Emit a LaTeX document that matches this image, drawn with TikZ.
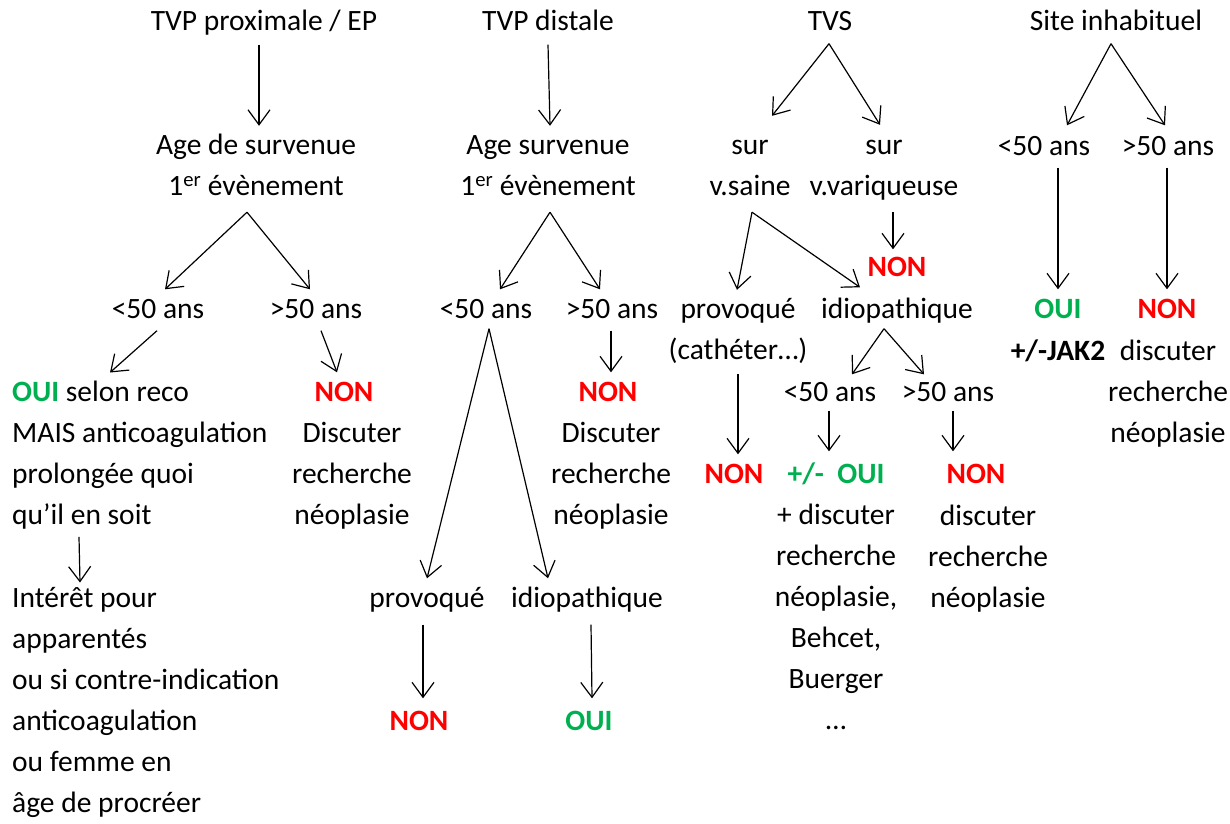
\documentclass[tikz,border=0pt]{standalone}
\usepackage{fontspec}
\setmainfont{Carlito}
\usetikzlibrary{calc,arrows.meta}
\definecolor{ouivert}{RGB}{0,176,80}
\definecolor{nonrouge}{RGB}{255,0,0}
\tikzset{
	txt/.style={font=\fontsize{29.5}{41}\selectfont, inner sep=0pt, align=center,
		execute at begin node=\strut, execute at end node=\strut},
	non/.style={txt, text=nonrouge, font=\fontsize{29.5}{41}\selectfont\bfseries},
	oui/.style={txt, text=ouivert, font=\fontsize{29.5}{41}\selectfont\bfseries},
	fl/.style={-{Straight Barb[length=15pt,width=22pt]}, line width=1.2pt}
}

\begin{document}
\begin{tikzpicture}[x=1pt, y=-1pt]
		%%%%% START %%%%%
		\useasboundingbox (0, 0) rectangle (1230, 823);
		
		% TVP proximale
		\node[txt] (tvpprox) at (264, 22) {TVP proximale / EP};
		\node[txt] (age1) at (256, 167) {\strut Age de survenue\\1\textsuperscript{er} évènement};
		\node[txt] (jeune1) at (158, 310) {<50 ans};
		\node[txt] (vieux1) at (316, 310) {>50 ans};
		\node[txt, align=left, anchor=north west] (oui1) at (12, 372.5) {\strut\textcolor{ouivert}{\bfseries OUI} selon reco\\MAIS anticoagulation\\prolongée quoi\\qu’il en soit};
		\node[non] (non1) at (344, 393) {NON};
		\node[txt] (disc1) at (352, 475) {\strut Discuter\\recherche\\néoplasie};
		\node[txt, align=left, anchor=north west] (interet) at (12, 578.5) {\strut Intérêt pour\\apparentés\\ou si contre-indication\\anticoagulation\\ou femme en\\âge de procréer};
		
		\draw[fl] ($(tvpprox.south)+(-5, 2)$) -- ($(age1.north)+(3, 0)$);
		\draw[fl] ($(age1.south)+(-9, 4)$) -- ($(jeune1.north)+(7, 0)$);
		\draw[fl] ($(age1.south)+(-9, 4)$) -- ($(vieux1.north)+(-6, 0)$);
		\draw[fl] ($(jeune1.south)+(-1, 0)$) -- ($(oui1.north west)+(98, 0)$);
		\draw[fl] ($(vieux1.south)+(5, 0)$) -- ($(non1.north)+(-7, 0)$);
		\draw[fl] ($(oui1.south west)+(67, 0)$) -- ($(interet.north west)+(68, 4)$);
		
		% TVP distale
		\node[txt] (tvpdist) at (548, 22) {TVP distale};
		\node[txt] (age2) at (548, 167) {\strut Age survenue\\1\textsuperscript{er} évènement};
		\node[txt] (jeune2) at (486, 310) {<50 ans};
		\node[txt] (vieux2) at (612, 310) {>50 ans};
		\node[non] (non2) at (608, 393) {NON};
		\node[txt] (disc2) at (611, 475) {\strut Discuter\\recherche\\néoplasie};
		\node[txt] (prov2) at (427, 599) {provoqué};
		\node[txt] (idio2) at (587, 599) {idiopathique};
		\node[non] (non2b) at (419, 722) {NON};
		\node[oui] (oui2) at (589, 722) {OUI};
		
		\draw[fl] ($(tvpdist.south)+(0, 2)$) -- ($(age2.north)+(2, 0)$);
		\draw[fl] ($(age2.south)+(2, 4)$) -- ($(jeune2.north)+(14, 0)$);
		\draw[fl] ($(age2.south)+(2, 4)$) -- ($(vieux2.north)+(-12, 0)$);
		\draw[fl] ($(vieux2.south)+(-1, 0)$) -- ($(non2.north)+(3, 0)$);
		\draw[fl] ($(jeune2.south)+(3, -2)$) -- (prov2.north);
		\draw[fl] ($(jeune2.south)+(3, -2)$) -- ($(idio2.north)+(-39, 0)$);
		\draw[fl] ($(prov2.south)+(-4, 5)$) -- ($(non2b.north)+(4, -3)$);
		\draw[fl] ($(idio2.south)+(4, 5)$) -- ($(oui2.north)+(3, -3)$);
		
		% TVS
		\node[txt] (tvs) at (830, 22) {TVS};
		\node[txt] (sursaine) at (750, 167) {\strut sur\\v.saine};
		\node[txt] (survar) at (884, 167) {\strut sur\hspace{16pt}\\v.variqueuse};
		\node[non] (non3a) at (897, 268) {NON};
		\node[txt] (prov3) at (738, 331) {\strut provoqué\\(cathéter…)};
		\node[txt] (idio3) at (897, 310) {idiopathique};
		\node[non] (non3b) at (734, 475) {NON};
		\node[txt] (jeune3) at (830, 393) {<50 ans};
		\node[txt] (vieux3) at (948, 393) {>50 ans};
		\node[txt] (oui3) at (836, 598) {\strut\textcolor{ouivert}{\bfseries +/-\ \ OUI}\\+ discuter\\recherche\\néoplasie,\\Behcet,\\Buerger\\…};
		\node[non] (non3c) at (976, 475) {NON};
		\node[txt] (disc3) at (988, 558) {\strut discuter\\recherche\\néoplasie};
		
		\draw[fl] ($(tvs.south)+(-1, 1)$) -- ($(sursaine.north)+(22, -10)$);
		\draw[fl] ($(tvs.south)+(-1, 1)$) -- ($(survar.north)+(-4, -1)$);
		\draw[fl] ($(survar.south)+(9, 4)$) -- ($(non3a.north)+(-4, 2)$);
		\draw[fl] ($(sursaine.south)+(2, 4)$) -- ($(prov3.north)+(-1, 0)$);
		\draw[fl] ($(sursaine.south)+(2, 4)$) -- ($(idio3.north)+(-37, -2)$);
		\draw[fl] ($(prov3.south)+(0, 2)$) -- ($(non3b.north)+(4, 0)$);
		\draw[fl] ($(idio3.south)+(-13, -2)$) -- ($(jeune3.north)+(22, 2)$);
		\draw[fl] ($(idio3.south)+(-13, -2)$) -- ($(vieux3.north)+(-24, 2)$);
		\draw[fl] ($(jeune3.south)+(-1, -3)$) -- ($(oui3.north)+(-7, -3)$);
		\draw[fl] ($(vieux3.south)+(5, -3)$) -- ($(non3c.north)+(-23, -3)$);
		
		% Site inhabituel
		\node[txt] (site) at (1116, 22) {Site inhabituel};
		\node[txt] (jeune4) at (1044, 147) {<50 ans};
		\node[txt] (vieux4) at (1168, 147) {>50 ans};
		\node[oui] (oui4) at (1058, 310) {OUI};
		\node[non] (non4) at (1167, 310) {NON};
		\node[txt] (jak) at (1058, 352) {\textbf{+/-JAK2}};
		\node[txt] (disc4) at (1168, 393) {\strut discuter\\recherche\\néoplasie};
		
		\draw[fl] ($(site.south)+(-5, 1)$) -- ($(jeune4.north)+(23, -1)$);
		\draw[fl] ($(site.south)+(-5, 1)$) -- ($(vieux4.north)+(-3, -1)$);
		\draw[fl] (oui4.north |- jeune4.south) -- (oui4.north);
		\draw[fl] (non4.north |- vieux4.south) -- (non4.north);
		
		%%%%% END %%%%%
	\end{tikzpicture}
\end{document}
